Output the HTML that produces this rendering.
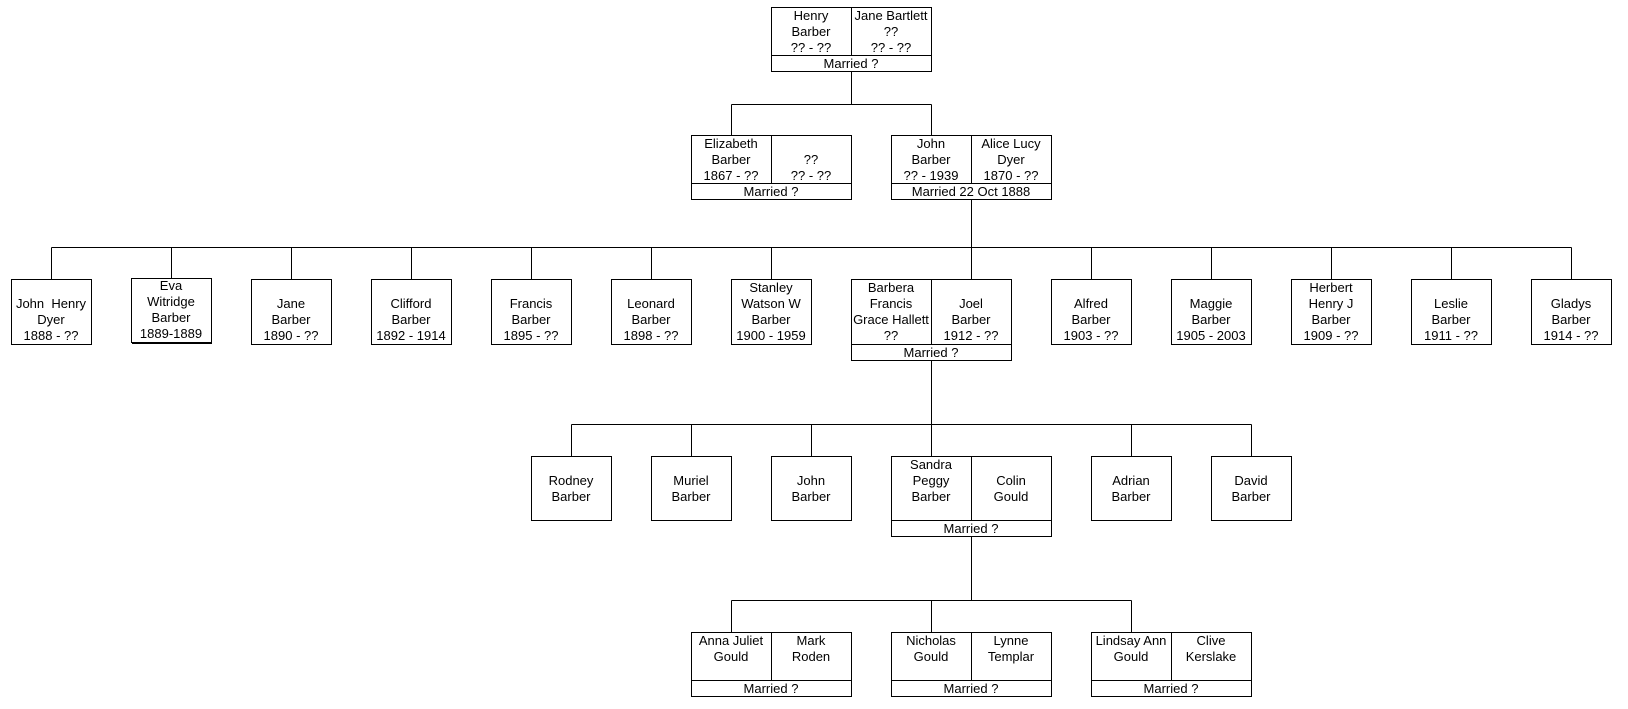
<!DOCTYPE html>
<html>
<head>
<meta charset="utf-8">
<style>
  html, body { margin: 0; padding: 0; background: #fff; }
  body { width: 1628px; height: 709px; overflow: hidden; }
  svg { display: block; }
  text { font-family: "Liberation Sans", Arial, sans-serif; font-size: 13px; fill: #000; text-anchor: middle; white-space: pre; }
  .l { stroke: #000; stroke-width: 1; fill: none; }
  .b { stroke: #000; stroke-width: 1; fill: #fff; }
</style>
</head>
<body>
<svg width="1628" height="709" viewBox="0 0 1628 709" xmlns="http://www.w3.org/2000/svg" shape-rendering="crispEdges" xml:space="preserve">
  <!-- ============ Connectors ============ -->
  <!-- row1 -> row2 -->
  <line class="l" x1="851.5" y1="71.5" x2="851.5" y2="104.5"/>
  <line class="l" x1="731.5" y1="104.5" x2="931.5" y2="104.5"/>
  <line class="l" x1="731.5" y1="104.5" x2="731.5" y2="135.5"/>
  <line class="l" x1="931.5" y1="104.5" x2="931.5" y2="135.5"/>

  <!-- row2 -> row3 -->
  <line class="l" x1="971.5" y1="199.5" x2="971.5" y2="279.5"/>
  <line class="l" x1="51.5" y1="247.5" x2="1571.5" y2="247.5"/>
  <line class="l" x1="51.5" y1="247.5" x2="51.5" y2="279.5"/>
  <line class="l" x1="171.5" y1="247.5" x2="171.5" y2="278.5"/>
  <line class="l" x1="291.5" y1="247.5" x2="291.5" y2="279.5"/>
  <line class="l" x1="411.5" y1="247.5" x2="411.5" y2="279.5"/>
  <line class="l" x1="531.5" y1="247.5" x2="531.5" y2="279.5"/>
  <line class="l" x1="651.5" y1="247.5" x2="651.5" y2="279.5"/>
  <line class="l" x1="771.5" y1="247.5" x2="771.5" y2="279.5"/>
  <line class="l" x1="1091.5" y1="247.5" x2="1091.5" y2="279.5"/>
  <line class="l" x1="1211.5" y1="247.5" x2="1211.5" y2="279.5"/>
  <line class="l" x1="1331.5" y1="247.5" x2="1331.5" y2="279.5"/>
  <line class="l" x1="1451.5" y1="247.5" x2="1451.5" y2="279.5"/>
  <line class="l" x1="1571.5" y1="247.5" x2="1571.5" y2="279.5"/>

  <!-- row3 -> row4 -->
  <line class="l" x1="931.5" y1="360.5" x2="931.5" y2="456.5"/>
  <line class="l" x1="571.5" y1="424.5" x2="1251.5" y2="424.5"/>
  <line class="l" x1="571.5" y1="424.5" x2="571.5" y2="456.5"/>
  <line class="l" x1="691.5" y1="424.5" x2="691.5" y2="456.5"/>
  <line class="l" x1="811.5" y1="424.5" x2="811.5" y2="456.5"/>
  <line class="l" x1="1131.5" y1="424.5" x2="1131.5" y2="456.5"/>
  <line class="l" x1="1251.5" y1="424.5" x2="1251.5" y2="456.5"/>

  <!-- row4 -> row5 -->
  <line class="l" x1="971.5" y1="536.5" x2="971.5" y2="600.5"/>
  <line class="l" x1="731.5" y1="600.5" x2="1131.5" y2="600.5"/>
  <line class="l" x1="731.5" y1="600.5" x2="731.5" y2="632.5"/>
  <line class="l" x1="931.5" y1="600.5" x2="931.5" y2="632.5"/>
  <line class="l" x1="1131.5" y1="600.5" x2="1131.5" y2="632.5"/>

  <!-- ============ Row 1 ============ -->
  <rect class="b" x="771.5" y="7.5" width="160" height="64"/>
  <line class="l" x1="851.5" y1="7.5" x2="851.5" y2="55.5"/>
  <line class="l" x1="771.5" y1="55.5" x2="931.5" y2="55.5"/>
  <text x="811" y="20">Henry</text>
  <text x="811" y="36">Barber</text>
  <text x="811" y="52">?? - ??</text>
  <text x="891" y="20">Jane Bartlett</text>
  <text x="891" y="36">??</text>
  <text x="891" y="52">?? - ??</text>
  <text x="851" y="68">Married ?</text>

  <!-- ============ Row 2 ============ -->
  <rect class="b" x="691.5" y="135.5" width="160" height="64"/>
  <line class="l" x1="771.5" y1="135.5" x2="771.5" y2="183.5"/>
  <line class="l" x1="691.5" y1="183.5" x2="851.5" y2="183.5"/>
  <text x="731" y="148">Elizabeth</text>
  <text x="731" y="164">Barber</text>
  <text x="731" y="180">1867 - ??</text>
  <text x="811" y="164">??</text>
  <text x="811" y="180">?? - ??</text>
  <text x="771" y="196">Married ?</text>

  <rect class="b" x="891.5" y="135.5" width="160" height="64"/>
  <line class="l" x1="971.5" y1="135.5" x2="971.5" y2="183.5"/>
  <line class="l" x1="891.5" y1="183.5" x2="1051.5" y2="183.5"/>
  <text x="931" y="148">John</text>
  <text x="931" y="164">Barber</text>
  <text x="931" y="180">?? - 1939</text>
  <text x="1011" y="148">Alice Lucy</text>
  <text x="1011" y="164">Dyer</text>
  <text x="1011" y="180">1870 - ??</text>
  <text x="971" y="196">Married 22 Oct 1888</text>

  <!-- ============ Row 3 ============ -->
  <rect class="b" x="11.5" y="279.5" width="80" height="65"/>
  <text x="51" y="308">John  Henry</text>
  <text x="51" y="324">Dyer</text>
  <text x="51" y="340">1888 - ??</text>

  <rect class="b" x="131.5" y="278.5" width="80" height="64"/>
  <line class="l" x1="132" y1="343.5" x2="212" y2="343.5"/>
  <text x="171" y="290">Eva</text>
  <text x="171" y="306">Witridge</text>
  <text x="171" y="322">Barber</text>
  <text x="171" y="338">1889-1889</text>

  <rect class="b" x="251.5" y="279.5" width="80" height="65"/>
  <text x="291" y="308">Jane</text>
  <text x="291" y="324">Barber</text>
  <text x="291" y="340">1890 - ??</text>

  <rect class="b" x="371.5" y="279.5" width="80" height="65"/>
  <text x="411" y="308">Clifford</text>
  <text x="411" y="324">Barber</text>
  <text x="411" y="340">1892 - 1914</text>

  <rect class="b" x="491.5" y="279.5" width="80" height="65"/>
  <text x="531" y="308">Francis</text>
  <text x="531" y="324">Barber</text>
  <text x="531" y="340">1895 - ??</text>

  <rect class="b" x="611.5" y="279.5" width="80" height="65"/>
  <text x="651" y="308">Leonard</text>
  <text x="651" y="324">Barber</text>
  <text x="651" y="340">1898 - ??</text>

  <rect class="b" x="731.5" y="279.5" width="80" height="65"/>
  <text x="771" y="292">Stanley</text>
  <text x="771" y="308">Watson W</text>
  <text x="771" y="324">Barber</text>
  <text x="771" y="340">1900 - 1959</text>

  <rect class="b" x="851.5" y="279.5" width="160" height="81"/>
  <line class="l" x1="931.5" y1="279.5" x2="931.5" y2="344.5"/>
  <line class="l" x1="851.5" y1="344.5" x2="1011.5" y2="344.5"/>
  <line class="l" x1="971.5" y1="247.5" x2="971.5" y2="279.5"/>
  <text x="891" y="292">Barbera</text>
  <text x="891" y="308">Francis</text>
  <text x="891" y="324">Grace Hallett</text>
  <text x="891" y="340">??</text>
  <text x="971" y="308">Joel</text>
  <text x="971" y="324">Barber</text>
  <text x="971" y="340">1912 - ??</text>
  <text x="931" y="357">Married ?</text>

  <rect class="b" x="1051.5" y="279.5" width="80" height="65"/>
  <text x="1091" y="308">Alfred</text>
  <text x="1091" y="324">Barber</text>
  <text x="1091" y="340">1903 - ??</text>

  <rect class="b" x="1171.5" y="279.5" width="80" height="65"/>
  <text x="1211" y="308">Maggie</text>
  <text x="1211" y="324">Barber</text>
  <text x="1211" y="340">1905 - 2003</text>

  <rect class="b" x="1291.5" y="279.5" width="80" height="65"/>
  <text x="1331" y="292">Herbert</text>
  <text x="1331" y="308">Henry J</text>
  <text x="1331" y="324">Barber</text>
  <text x="1331" y="340">1909 - ??</text>

  <rect class="b" x="1411.5" y="279.5" width="80" height="65"/>
  <text x="1451" y="308">Leslie</text>
  <text x="1451" y="324">Barber</text>
  <text x="1451" y="340">1911 - ??</text>

  <rect class="b" x="1531.5" y="279.5" width="80" height="65"/>
  <text x="1571" y="308">Gladys</text>
  <text x="1571" y="324">Barber</text>
  <text x="1571" y="340">1914 - ??</text>

  <!-- ============ Row 4 ============ -->
  <rect class="b" x="531.5" y="456.5" width="80" height="64"/>
  <text x="571" y="485">Rodney</text>
  <text x="571" y="501">Barber</text>

  <rect class="b" x="651.5" y="456.5" width="80" height="64"/>
  <text x="691" y="485">Muriel</text>
  <text x="691" y="501">Barber</text>

  <rect class="b" x="771.5" y="456.5" width="80" height="64"/>
  <text x="811" y="485">John</text>
  <text x="811" y="501">Barber</text>

  <rect class="b" x="891.5" y="456.5" width="160" height="80"/>
  <line class="l" x1="971.5" y1="456.5" x2="971.5" y2="520.5"/>
  <line class="l" x1="891.5" y1="520.5" x2="1051.5" y2="520.5"/>
  <line class="l" x1="931.5" y1="424.5" x2="931.5" y2="456.5"/>
  <text x="931" y="469">Sandra</text>
  <text x="931" y="485">Peggy</text>
  <text x="931" y="501">Barber</text>
  <text x="1011" y="485">Colin</text>
  <text x="1011" y="501">Gould</text>
  <text x="971" y="533">Married ?</text>

  <rect class="b" x="1091.5" y="456.5" width="80" height="64"/>
  <text x="1131" y="485">Adrian</text>
  <text x="1131" y="501">Barber</text>

  <rect class="b" x="1211.5" y="456.5" width="80" height="64"/>
  <text x="1251" y="485">David</text>
  <text x="1251" y="501">Barber</text>

  <!-- ============ Row 5 ============ -->
  <rect class="b" x="691.5" y="632.5" width="160" height="64"/>
  <line class="l" x1="771.5" y1="632.5" x2="771.5" y2="680.5"/>
  <line class="l" x1="691.5" y1="680.5" x2="851.5" y2="680.5"/>
  <text x="731" y="645">Anna Juliet</text>
  <text x="731" y="661">Gould</text>
  <text x="811" y="645">Mark</text>
  <text x="811" y="661">Roden</text>
  <text x="771" y="693">Married ?</text>

  <rect class="b" x="891.5" y="632.5" width="160" height="64"/>
  <line class="l" x1="971.5" y1="632.5" x2="971.5" y2="680.5"/>
  <line class="l" x1="891.5" y1="680.5" x2="1051.5" y2="680.5"/>
  <text x="931" y="645">Nicholas</text>
  <text x="931" y="661">Gould</text>
  <text x="1011" y="645">Lynne</text>
  <text x="1011" y="661">Templar</text>
  <text x="971" y="693">Married ?</text>

  <rect class="b" x="1091.5" y="632.5" width="160" height="64"/>
  <line class="l" x1="1171.5" y1="632.5" x2="1171.5" y2="680.5"/>
  <line class="l" x1="1091.5" y1="680.5" x2="1251.5" y2="680.5"/>
  <text x="1131" y="645">Lindsay Ann</text>
  <text x="1131" y="661">Gould</text>
  <text x="1211" y="645">Clive</text>
  <text x="1211" y="661">Kerslake</text>
  <text x="1171" y="693">Married ?</text>
</svg>
</body>
</html>
